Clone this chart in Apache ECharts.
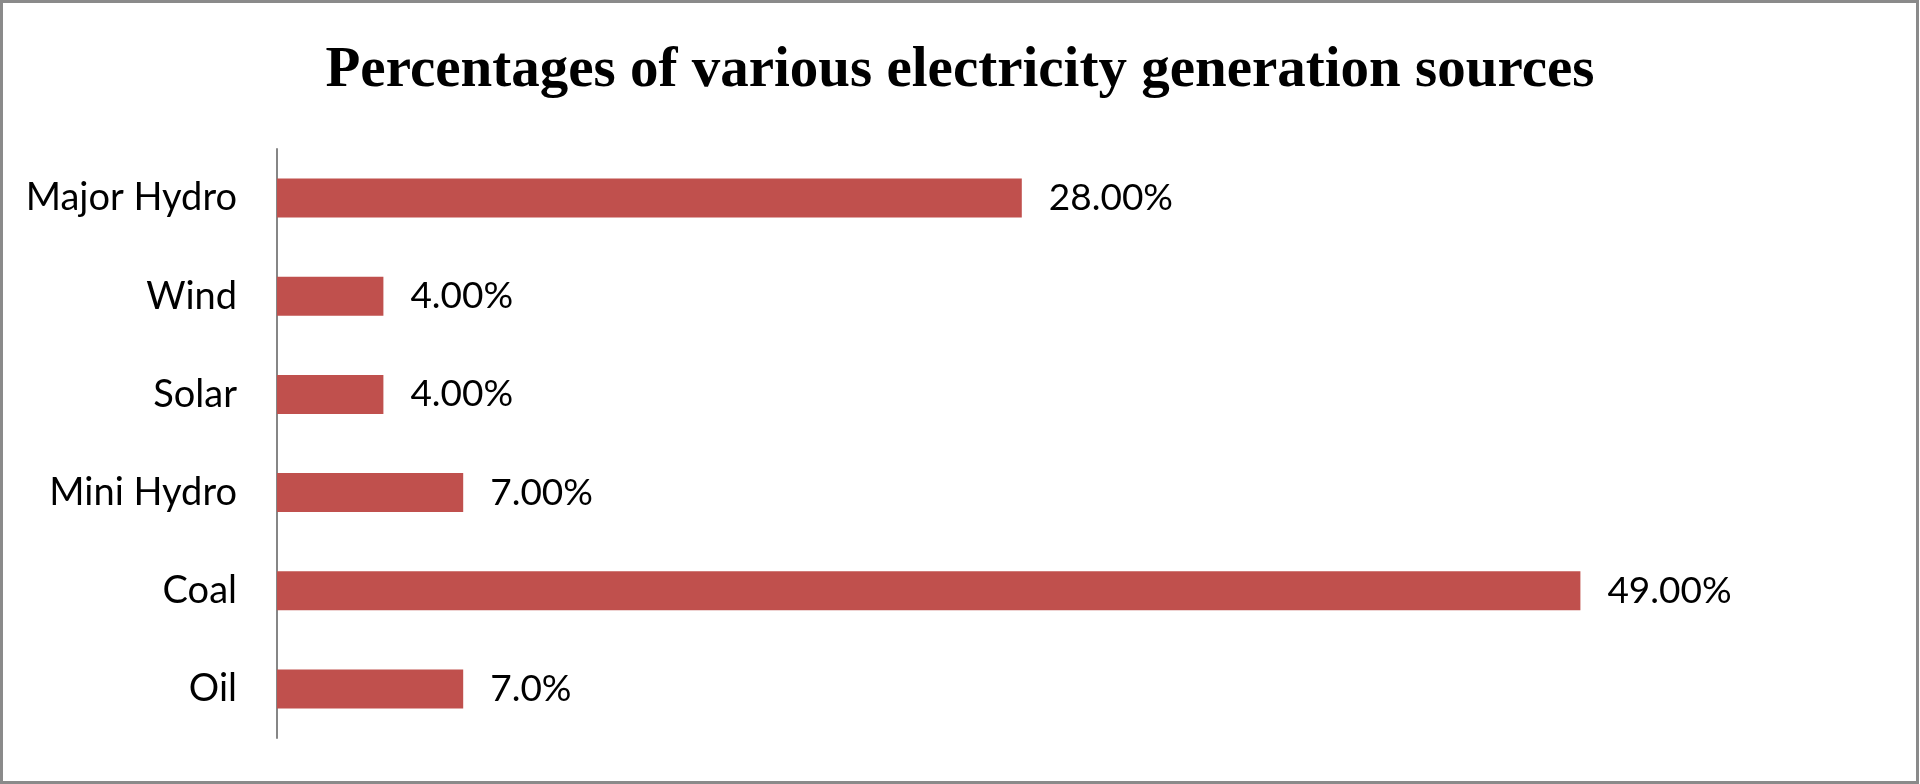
<!DOCTYPE html>
<html>
<head>
<meta charset="utf-8">
<script src="https://cdn.jsdelivr.net/npm/echarts@6/dist/echarts.min.js"></script>
<style>
html,body{margin:0;padding:0;background:#fff;}
#chart{width:1920px;height:784px;}
</style>
</head>
<body>
<div id="chart"></div>
<script>
const titleText = 'Percentages of various electricity generation sources';
const categories = ['Major Hydro', 'Wind', 'Solar', 'Mini Hydro', 'Coal', 'Oil'];
const values = [28, 4, 4, 7, 49, 7];
const valueLabels = ['28.00%', '4.00%', '4.00%', '7.00%', '49.00%', '7.0%'];

const chart = echarts.init(document.getElementById('chart'));
chart.setOption({
  animation: false,
  backgroundColor: '#ffffff',
  title: {
    text: titleText,
    left: 'center',
    top: 38,
    textStyle: {
      fontFamily: 'Liberation Serif',
      fontWeight: 'bold',
      fontSize: 57,
      color: '#000'
    }
  },
  graphic: [{
    type: 'rect',
    shape: { x: 1.5, y: 1.5, width: 1916, height: 781 },
    style: { fill: 'none', stroke: '#8a8a8a', lineWidth: 3 },
    silent: true
  }],
  grid: { left: 277, right: 47, top: 149, bottom: 46, containLabel: false },
  xAxis: {
    type: 'value',
    min: 0,
    max: 60,
    show: false
  },
  yAxis: {
    type: 'category',
    data: categories,
    inverse: true,
    axisLine: { show: true, lineStyle: { color: '#868686', width: 2 } },
    axisTick: { show: false },
    axisLabel: {
      margin: 40,
      fontFamily: 'Lato',
      fontSize: 38,
      color: '#000',
      padding: [4, 0, 0, 0]
    },
    splitLine: { show: false }
  },
  series: [{
    type: 'bar',
    data: values,
    barWidth: 39,
    itemStyle: { color: '#C0504D' },
    label: {
      show: true,
      position: 'right',
      distance: 27,
      fontFamily: 'Lato',
      fontSize: 37,
      color: '#000',
      padding: [4, 0, 0, 0],
      formatter: p => valueLabels[p.dataIndex]
    }
  }]
});
</script>
</body>
</html>
